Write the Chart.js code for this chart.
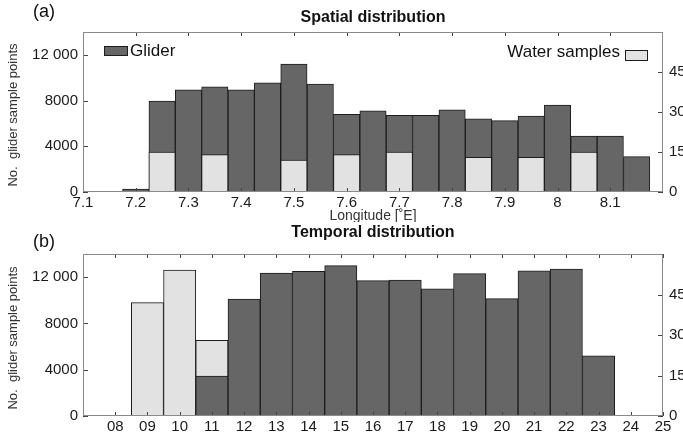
<!DOCTYPE html>
<html>
<head>
<meta charset="utf-8">
<script src="https://cdn.jsdelivr.net/npm/chart.js@4.4.1/dist/chart.umd.min.js"></script>
<style>
  body { margin: 0; background: #fff; }
  .panel { position: absolute; left: 0; width: 683px; }
  #top { top: 0; height: 222px; }
  #bottom { top: 222px; height: 214px; }
</style>
</head>
<body>
<div class="panel" id="top"><canvas id="spatial"></canvas></div>
<div class="panel" id="bottom"><canvas id="temporal"></canvas></div>
<script>
// (a) spatial distribution, 0.05 deg longitude bins (bin centres)
const lonBins = [7.2, 7.25, 7.3, 7.35, 7.4, 7.45, 7.5, 7.55, 7.6, 7.65,
  7.7, 7.75, 7.8, 7.85, 7.9, 7.95, 8.0, 8.05, 8.1, 8.15];
const gliderByLon = [250, 7950, 8950, 9200, 8950, 9550, 11200, 9450, 6800, 7100,
  6700, 6700, 7200, 6400, 6250, 6650, 7600, 4900, 4900, 3100];
const waterLonBins = [7.25, 7.35, 7.5, 7.6, 7.7, 7.85, 7.95, 8.05];
const waterByLon = [15, 14, 12, 14, 15, 13, 13, 15];

// (b) temporal distribution, hour of day
const gliderHours = [11, 12, 13, 14, 15, 16, 17, 18, 19, 20, 21, 22, 23];
const gliderByHour = [3450, 10100, 12350, 12500, 13000, 11700, 11750, 11000,
  12300, 10150, 12550, 12700, 5200];
const waterHours = [9, 10, 11];
const waterByHour = [42, 54, 28];

// tick labels
const lonTicks = [7.1, 7.2, 7.3, 7.4, 7.5, 7.6, 7.7, 7.8, 7.9, 8.0, 8.1];
const hourTicks = [8, 9, 10, 11, 12, 13, 14, 15, 16, 17, 18, 19, 20, 21, 22, 23, 24, 25];
const countTicks = [0, 4000, 8000, 12000];
const waterTicks = [0, 15, 30, 45];

const DARK = '#666666';
const LIGHT = '#e2e2e2';
const EDGE = '#1c1c1c';
const FONT = "'Liberation Sans', Arial, sans-serif";

Chart.defaults.font.family = FONT;
Chart.defaults.color = '#1a1a1a';

function fmtCount(v) {
  if (v >= 10000) return Math.floor(v / 1000) + ' ' + String(v % 1000).padStart(3, '0');
  return String(v);
}

function toPoints(xs, ys) {
  return xs.map((x, i) => ({ x: x, y: ys[i] }));
}

// frame, inward tick marks, titles and legend
const decor = {
  id: 'decor',
  afterDatasetsDraw(chart, args, o) {
    const { ctx, chartArea: a, scales } = chart;
    ctx.save();
    ctx.lineWidth = 1;
    ctx.strokeStyle = '#444';
    ctx.beginPath();
    scales.x.ticks.forEach(t => {
      const px = Math.round(scales.x.getPixelForValue(t.value)) + 0.5;
      ctx.moveTo(px, a.bottom); ctx.lineTo(px, a.bottom - 4);
      ctx.moveTo(px, a.top); ctx.lineTo(px, a.top + 4);
    });
    scales.y.ticks.forEach(t => {
      const py = Math.round(scales.y.getPixelForValue(t.value)) + 0.5;
      ctx.moveTo(a.left, py); ctx.lineTo(a.left + 5, py);
    });
    scales.y1.ticks.forEach(t => {
      const py = Math.round(scales.y1.getPixelForValue(t.value)) + 0.5;
      ctx.moveTo(a.right, py); ctx.lineTo(a.right - 5, py);
    });
    ctx.stroke();
    ctx.strokeStyle = '#8a8a8a';
    ctx.strokeRect(a.left + 0.5, a.top + 0.5, a.width - 1, a.height - 1);
    ctx.restore();
  },
  afterDraw(chart, args, o) {
    const { ctx, chartArea: a } = chart;
    const cx = (a.left + a.right) / 2;
    ctx.save();
    ctx.textBaseline = 'middle';
    ctx.fillStyle = '#111';

    ctx.font = '18px ' + FONT;
    ctx.textAlign = 'left';
    ctx.fillText(o.letter, 33, o.letterY);

    ctx.font = 'bold 16px ' + FONT;
    ctx.textAlign = 'center';
    ctx.fillText(o.title, cx, o.titleY);

    ctx.fillStyle = '#333';
    ctx.font = '13px ' + FONT;
    ctx.save();
    ctx.translate(13, (a.top + a.bottom) / 2 + 3);
    ctx.rotate(-Math.PI / 2);
    ctx.fillText('No.  glider sample points', 0, 0);
    ctx.restore();

    if (o.xTitle) {
      ctx.font = '14px ' + FONT;
      ctx.fillText(o.xTitle, cx, 216.5);
    }

    if (o.legend) {
      ctx.font = '17px ' + FONT;
      ctx.lineWidth = 1;
      ctx.strokeStyle = EDGE;
      ctx.fillStyle = DARK;
      ctx.fillRect(104.5, 46.5, 23, 9);
      ctx.strokeRect(104.5, 46.5, 23, 9);
      ctx.fillStyle = LIGHT;
      ctx.fillRect(625.5, 50.5, 22, 10);
      ctx.strokeRect(625.5, 50.5, 22, 10);
      ctx.fillStyle = '#111';
      ctx.textAlign = 'left';
      ctx.fillText('Glider', 130, 51);
      ctx.textAlign = 'right';
      ctx.fillText('Water samples', 620, 52);
    }
    ctx.restore();
  }
};

function makeChart(canvasId, cfg) {
  const barDefaults = {
    barPercentage: 1,
    categoryPercentage: 1,
    grouped: false,
    borderWidth: 1,
    borderColor: EDGE,
    borderSkipped: false
  };
  const datasets = cfg.datasets.map(d => Object.assign({}, barDefaults, d));

  return new Chart(document.getElementById(canvasId), {
    type: 'bar',
    data: { datasets: datasets },
    plugins: [decor],
    options: {
      responsive: true,
      maintainAspectRatio: false,
      animation: false,
      layout: { padding: { top: 32, left: 0, right: 0, bottom: 0 } },
      plugins: {
        legend: { display: false },
        tooltip: { enabled: false },
        decor: cfg.decor
      },
      scales: {
        x: {
          type: 'linear',
          min: cfg.xMin,
          max: cfg.xMax,
          offset: false,
          grid: { display: false, drawTicks: false },
          border: { display: false },
          afterBuildTicks: s => { s.ticks = cfg.xTicks.map(v => ({ value: v })); },
          afterFit: s => { s.height = cfg.xHeight; },
          ticks: {
            padding: 2,
            maxRotation: 0,
            autoSkip: false,
            font: { size: 15 },
            callback: cfg.xFormat
          }
        },
        y: {
          position: 'left',
          min: 0,
          max: 14000,
          grid: { display: false, drawTicks: false },
          border: { display: false },
          afterBuildTicks: s => { s.ticks = countTicks.map(v => ({ value: v })); },
          afterFit: s => { s.width = 83; },
          ticks: { padding: 5, font: { size: 15 }, callback: v => fmtCount(v) }
        },
        y1: {
          position: 'right',
          min: 0,
          max: 60,
          grid: { display: false, drawTicks: false },
          border: { display: false },
          afterBuildTicks: s => { s.ticks = waterTicks.map(v => ({ value: v })); },
          afterFit: s => { s.width = 20; },
          ticks: { padding: 6, font: { size: 15 } }
        }
      }
    }
  });
}

// (a) water bars drawn over the glider bars
makeChart('spatial', {
  xMin: 7.1,
  xMax: 8.2,
  xHeight: 30,
  xTicks: lonTicks,
  xFormat: v => String(Number(v.toFixed(1))),
  decor: { letter: '(a)', letterY: 12.5, title: 'Spatial distribution', titleY: 18,
    xTitle: 'Longitude [˚E]', legend: true },
  datasets: [
    { label: 'Water samples', yAxisID: 'y1', data: toPoints(waterLonBins, waterByLon),
      backgroundColor: LIGHT, order: 0 },
    { label: 'Glider', yAxisID: 'y', data: toPoints(lonBins, gliderByLon),
      backgroundColor: DARK, order: 1 }
  ]
});

// (b) glider bars drawn over the water bars
makeChart('temporal', {
  xMin: 7,
  xMax: 25,
  xHeight: 20,
  xTicks: hourTicks,
  xFormat: v => String(v).padStart(2, '0'),
  decor: { letter: '(b)', letterY: 20.5, title: 'Temporal distribution', titleY: 10.5,
    legend: false },
  datasets: [
    { label: 'Glider', yAxisID: 'y', data: toPoints(gliderHours, gliderByHour),
      backgroundColor: DARK, order: 0 },
    { label: 'Water samples', yAxisID: 'y1', data: toPoints(waterHours, waterByHour),
      backgroundColor: LIGHT, order: 1 }
  ]
});
</script>
</body>
</html>
